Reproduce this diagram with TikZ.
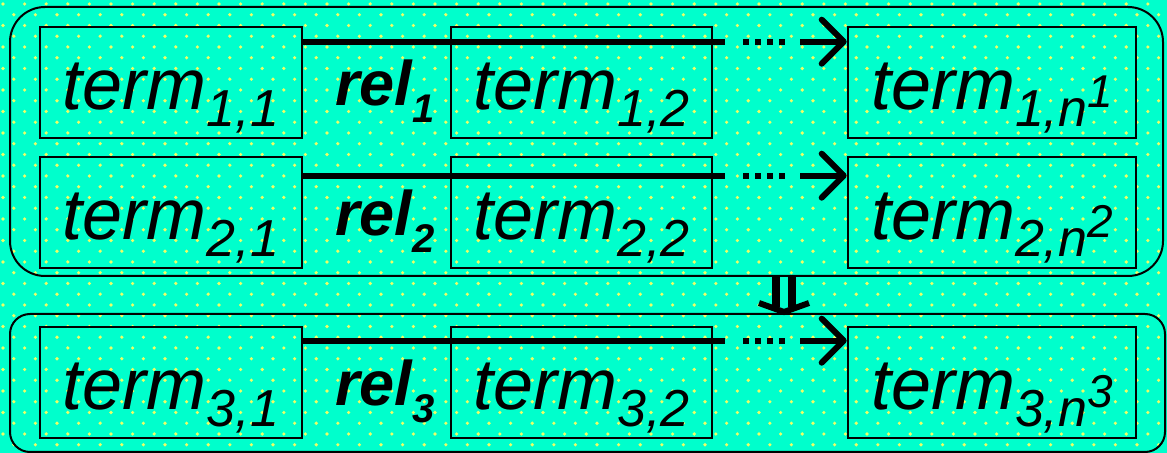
\documentclass[tikz,border=0pt]{standalone}
\usepackage{fontspec}
\setmainfont{Liberation Sans}
\usepackage{xcolor}
\usetikzlibrary{arrows.meta}
\definecolor{bgaqua}{HTML}{00FFCC}
\definecolor{dotyellow}{HTML}{EEFF66}

% labels
\newcommand{\termtxt}[2]{term\raisebox{-8.5pt}{\fontsize{26}{26}\selectfont #1,#2}}
\newcommand{\termn}[1]{term\raisebox{-8.5pt}{\fontsize{26}{26}\selectfont #1,n\raisebox{9.5pt}{\fontsize{23}{23}\selectfont #1}}}
\newcommand{\reltxt}[1]{rel\raisebox{-8.5pt}{\fontsize{20}{20}\selectfont #1}}

\tikzset{
  termbox/.style={draw, line width=1.3pt, minimum height=55.5pt, inner sep=0pt,
    text height=28pt, text depth=0.5pt, font=\fontsize{36}{36}\selectfont\itshape},
  rellab/.style={anchor=base, inner sep=0pt, font=\fontsize{31.5}{31.5}\selectfont\bfseries\itshape},
  grpbox/.style={draw, line width=1pt},
  relline/.style={line width=3pt},
  reldots/.style={line width=3pt, dash pattern=on 3pt off 3pt},
}

\begin{document}
\begin{tikzpicture}[x=0.5pt, y=-0.5pt]
  \fill[bgaqua] (0,0) rectangle (1167,453);
  \useasboundingbox (0,0) rectangle (1167,453);
  % dotted background
  \foreach \j in {0,...,42}
    \foreach \i in {0,...,54}
      \fill[dotyellow] ({3+21.6*\i+10.8*mod(\j,2)},{4+10.75*\j}) circle[radius=0.9pt];

  % groups
  \node[grpbox, rounded corners=17.5pt, minimum width=576.5pt, minimum height=134.5pt] (grp1) at (586.5,141.5) {};
  \node[grpbox, rounded corners=10pt, minimum width=577.5pt, minimum height=69pt] (grp2) at (587.5,383) {};

  % rows of terms
  \foreach \row/\top/\off in {1/27/16, 2/157/20, 3/327/15} {
    \node[termbox, minimum width=131pt] (term\row-1) at (171,\top+55.5) {\termtxt{\row}{1}};
    \node[termbox, minimum width=130.5pt] (term\row-2) at (581.5,\top+55.5) {\termtxt{\row}{2}};
    \node[termbox, minimum width=144pt] (term\row-n) at (992,\top+55.5) {\termn{\row}};
    \node[rellab] (rel\row) at (385,\top+79) {\reltxt{\row}};
    \coordinate (arr\row) at ([yshift=-\off*0.5pt]term\row-1.north east);
    \draw[relline] (arr\row) -- (arr\row -| 725,0);
    \draw[reldots] (arr\row -| 743,0) -- (arr\row -| 785,0);
    \draw[relline, -{Straight Barb[length=11pt, width=22pt, line cap=round, line join=round]}]
      (arr\row -| 800,0) -- (arr\row -| term\row-n.west);
  }

  % implies arrow between groups
  \coordinate (dtop) at (grp1.south -| 784,0);
  \coordinate (dtip) at (grp2.north -| 784,0);
  \draw[line width=4pt, double=bgaqua, double distance=4pt] (dtop) -- ([yshift=3pt]dtip);
  \draw[line width=3pt] ([xshift=-12.5pt,yshift=5pt]dtip) -- ([yshift=0.5pt]dtip) -- ([xshift=12.5pt,yshift=5pt]dtip);
\end{tikzpicture}
\end{document}
